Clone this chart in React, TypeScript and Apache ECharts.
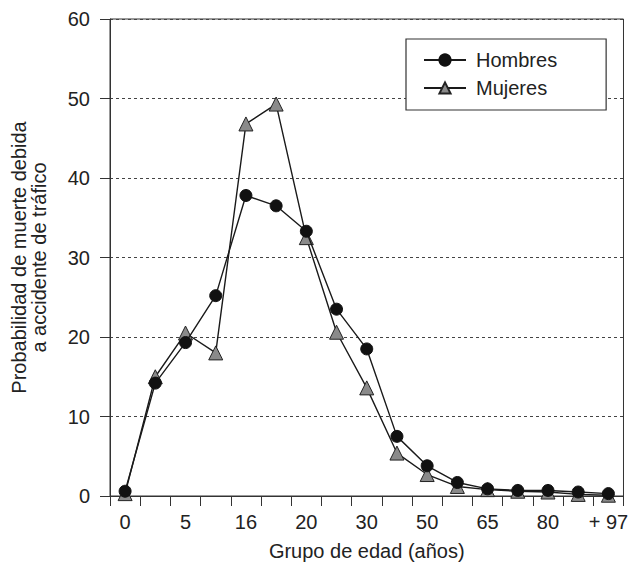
import React, { useEffect, useRef } from "react";
import * as echarts from "echarts";

const groupIndex = ["g0","g1","g2","g3","g4","g5","g6","g7","g8","g9","g10","g11","g12","g13","g14","g15","g16"];
const tickLabels = ["0", "5", "16", "20", "30", "50", "65", "80", "+ 97"];
const hombres = [0.6, 14.2, 19.3, 25.2, 37.8, 36.5, 33.3, 23.5, 18.5, 7.5, 3.8, 1.7, 0.9, 0.7, 0.7, 0.5, 0.3];
const mujeres = [0.3, 15.0, 20.5, 18.0, 46.8, 49.3, 32.5, 20.6, 13.6, 5.4, 2.7, 1.2, 0.8, 0.6, 0.5, 0.2, 0.1];
const yTicks = { min: 0, max: 60, interval: 10 };

const FONT = "Liberation Sans, Arial, sans-serif";
const TXT = "#222";
const AX = "#333";

export default function App() {
  const ref = useRef<HTMLDivElement>(null);
  useEffect(() => {
    if (!ref.current) return;
    const chart = echarts.init(ref.current, null, { renderer: "svg" });
    chart.setOption({
      animation: false,
      textStyle: { fontFamily: FONT },
      grid: {
        left: 110, right: 3, top: 19, bottom: 70,
        show: true, borderColor: AX, borderWidth: 1, backgroundColor: "transparent",
      },
      legend: {
        orient: "vertical",
        left: 406, top: 39,
        padding: [11, 49, 12, 17],
        itemWidth: 42, itemHeight: 14, itemGap: 8,
        backgroundColor: "#fff",
        borderColor: AX, borderWidth: 1.2,
        textStyle: { fontSize: 20, color: TXT, fontFamily: FONT, padding: [0, 0, 0, 5] },
        data: ["Hombres", "Mujeres"],
      },
      xAxis: {
        type: "category",
        data: groupIndex,
        boundaryGap: true,
        name: "Grupo de edad (años)",
        nameLocation: "middle",
        nameGap: 45,
        nameTextStyle: { fontSize: 20, color: TXT, fontFamily: FONT },
        axisLine: { lineStyle: { color: AX, width: 1 } },
        axisTick: { show: true, length: 10, inside: false, alignWithLabel: false, interval: 0, lineStyle: { color: AX } },
        axisLabel: {
          interval: 0, margin: 16, fontSize: 20, color: TXT, fontFamily: FONT,
          formatter: (_v: string, i: number) => (i % 2 === 0 ? tickLabels[i / 2] : ""),
        },
        splitLine: { show: false },
      },
      yAxis: {
        type: "value",
        min: yTicks.min, max: yTicks.max, interval: yTicks.interval,
        name: "Probabilidad de muerte debida\na accidente de tráfico",
        nameLocation: "middle",
        nameGap: 61,
        nameTextStyle: { fontSize: 20, color: TXT, fontFamily: FONT, lineHeight: 20 },
        axisLine: { show: true, lineStyle: { color: AX, width: 1 } },
        axisTick: { show: true, length: 10, lineStyle: { color: AX } },
        axisLabel: { margin: 20, fontSize: 20, color: TXT, fontFamily: FONT },
        splitLine: { show: true, lineStyle: { color: "#444", type: [3, 3], width: 1 } },
      },
      series: [
        {
          name: "Hombres",
          type: "line",
          data: hombres,
          symbol: "circle",
          symbolSize: 12,
          lineStyle: { color: "#1a1a1a", width: 1.4 },
          itemStyle: { color: "#111", borderColor: "#111", borderWidth: 1 },
          z: 3,
        },
        {
          name: "Mujeres",
          type: "line",
          data: mujeres,
          symbol: "triangle",
          symbolSize: 14,
          lineStyle: { color: "#1a1a1a", width: 1.4 },
          itemStyle: { color: "#8a8a8a", borderColor: "#222", borderWidth: 1 },
          z: 2,
        },
      ],
    });
    return () => chart.dispose();
  }, []);
  return (
    <div
      ref={ref}
      style={{ position: "fixed", left: 0, top: 0, width: 631, height: 566, background: "#fff" }}
    />
  );
}
